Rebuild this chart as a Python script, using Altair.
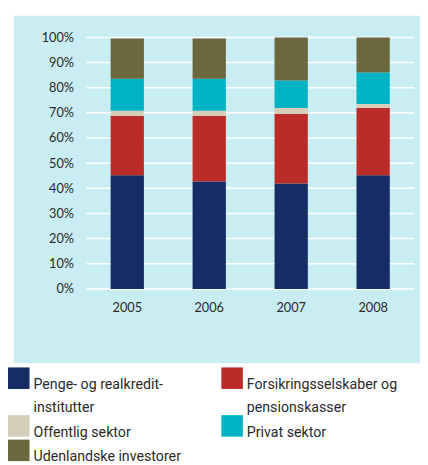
import altair as alt
import pandas as pd

# ---- data ----
years = ["2005", "2006", "2007", "2008"]
series = [
    "Penge- og realkreditinstitutter",
    "Forsikringsselskaber og pensionskasser",
    "Offentlig sektor",
    "Privat sektor",
    "Udenlandske investorer",
]
penge = [45.2, 42.7, 41.9, 45.2]
forsikring = [23.6, 26.1, 27.7, 26.7]
offentlig = [2.0, 2.0, 2.3, 1.6]
privat = [12.8, 12.8, 11.0, 12.5]
udenlandske = [16.0, 16.0, 17.1, 14.0]
y_ticks = [0, 10, 20, 30, 40, 50, 60, 70, 80, 90, 100]

colors = ["#172b65", "#bb2c28", "#d5cfb9", "#00b3c4", "#6b673e"]
panel_color = "#c8eef3"
text_color = "#2a2a2a"

values = [penge, forsikring, offentlig, privat, udenlandske]
rows = []
for i, (name, vals) in enumerate(zip(series, values)):
    for y, v in zip(years, vals):
        rows.append({"year": y, "series": name, "value": v, "idx": i})
df = pd.DataFrame(rows)

W, H = 335, 257

y_scale = alt.Scale(domain=[0, 100], nice=False, zero=True)
y_axis = alt.Axis(
    values=y_ticks,
    labelExpr="datum.value + '%'",
    grid=False,
    domain=False,
    ticks=False,
    labelPadding=13,
    labelFontSize=13,
    labelFont="Lato",
    labelColor=text_color,
    title=None,
    zindex=2,
)

panel = alt.Chart(pd.DataFrame({"p": [0]})).mark_rect(color=panel_color).encode(
    x=alt.value(-74), x2=alt.value(W + 6), y=alt.value(-22), y2=alt.value(H + 76)
)

grid = alt.Chart(pd.DataFrame({"v": y_ticks})).mark_rule(
    color="white", strokeWidth=1.5
).encode(y=alt.Y("v:Q", scale=y_scale, axis=y_axis))

label_expr = (
    "datum.label == 'Penge- og realkreditinstitutter' ? ['Penge- og realkredit-', ' institutter'] : "
    "datum.label == 'Forsikringsselskaber og pensionskasser' ? ['Forsikringsselskaber og', 'pensionskasser'] : "
    "datum.label"
)

bars = alt.Chart(df).mark_bar(size=34).encode(
    x=alt.X(
        "year:O",
        sort=years,
        axis=alt.Axis(
            labelAngle=0,
            domain=False,
            ticks=False,
            labelPadding=13,
            labelFontSize=13,
            labelFont="Lato",
            labelColor=text_color,
            title=None,
            zindex=2,
        ),
    ),
    y=alt.Y("value:Q", stack="zero", scale=y_scale, axis=y_axis),
    color=alt.Color(
        "series:N",
        sort=series,
        scale=alt.Scale(domain=series, range=colors),
        legend=alt.Legend(
            orient="none",
            direction="horizontal",
            legendX=-80,
            legendY=337,
            columns=2,
            columnPadding=41,
            rowPadding=-1.5,
            padding=0,
            symbolType="square",
            symbolSize=484,
            symbolStrokeWidth=0,
            symbolOpacity=1,
            labelFont="Roboto",
            labelFontSize=14.5,
            labelColor=text_color,
            labelOffset=4,
            labelBaseline="top",
            labelLimit=400,
            labelExpr=label_expr,
            title=None,
        ),
    ),
    order=alt.Order("idx:Q", sort="ascending"),
)

chart = (
    alt.layer(panel, grid, bars)
    .properties(width=W, height=H, padding={"left": 0, "top": 3, "right": 0, "bottom": 0})
    .configure_view(stroke=None)
    .configure(style={"guide-label": {"lineHeight": 24}})
)

chart.save("out.html", embed_options={"renderer": "svg", "actions": False})
